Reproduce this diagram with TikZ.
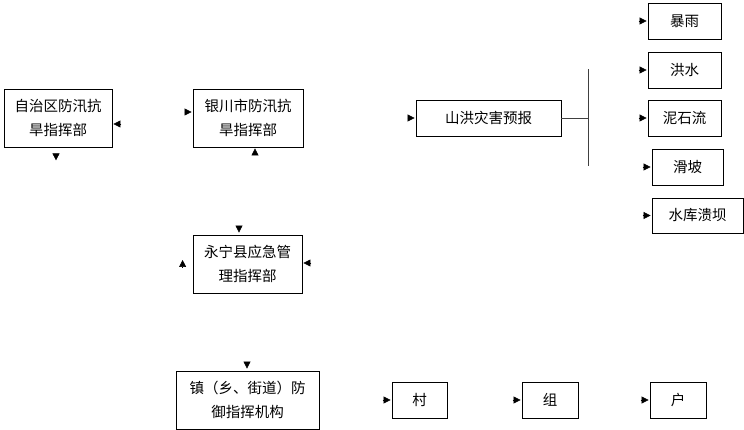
\documentclass[tikz,border=0pt]{standalone}
\usepackage{fontspec}
\setmainfont{Noto Sans CJK SC}
\usetikzlibrary{arrows.meta,calc}

\tikzset{
  box/.style={draw, line width=0.8pt, align=center, inner sep=0pt,
    font=\fontsize{14.5}{24}\selectfont},
  tip/.style={-{Triangle[length=7pt,width=7pt]}, line width=0.6pt},
}

\begin{document}
\begin{tikzpicture}[x=1pt,y=-1pt]
            \useasboundingbox (0,0) rectangle (744,430);
            % command chain
            \node[box, minimum width=108pt, minimum height=58pt] (zzq) at (58,118) {自治区防汛抗\\旱指挥部};
            \node[box, minimum width=110pt, minimum height=58pt] (ycs) at (248,118) {银川市防汛抗\\旱指挥部};
            \node[box, minimum width=109pt, minimum height=58pt] (yn) at (247.5,264) {永宁县应急管\\理指挥部};
            \node[box, minimum width=143pt, minimum height=58pt] (zhen) at (247.5,400) {镇（乡、街道）防\\御指挥机构};
            \node[box, minimum width=55pt, minimum height=36pt] (cun) at (419.5,400) {村};
            \node[box, minimum width=56pt, minimum height=36pt] (zu) at (550,400) {组};
            \node[box, minimum width=56pt, minimum height=36pt] (hu) at (678,400) {户};

            % forecast
            \node[box, minimum width=145pt, minimum height=36pt] (shyb) at (488.5,118) {山洪灾害预报};
            \node[box, minimum width=73pt, minimum height=36pt] (by) at (684.5,21) {暴雨};
            \node[box, minimum width=73pt, minimum height=36pt] (hs) at (684.5,70) {洪水};
            \node[box, minimum width=73pt, minimum height=36pt] (nsl) at (684.5,118) {泥石流};
            \node[box, minimum width=71pt, minimum height=36pt] (hp) at (687.5,167) {滑坡};
            \node[box, minimum width=91pt, minimum height=35pt] (skkb) at (697.5,215.5) {水库溃坝};

            \coordinate (bus) at (588,118);
            \draw[line width=0.8pt, black!75] (shyb.east) -- (bus);
            \draw[line width=0.8pt, black!75] ([yshift=-48pt]bus) -- ([yshift=49pt]bus);

            % arrow heads
            \draw[tip] ([shift={(-8pt,6pt)}]ycs.west) -- ([shift={(-1pt,6pt)}]ycs.west);
            \draw[tip] ([shift={(9pt,-6pt)}]zzq.east) -- ([shift={(1pt,-6pt)}]zzq.east);
            \draw[tip] ([shift={(-2pt,-7pt)}]zzq.south) -- ([shift={(-2pt,-13pt)}]zzq.south);
            \draw[tip] ([shift={(7pt,-7pt)}]ycs.south) -- ([shift={(7pt,-1pt)}]ycs.south);
            \draw[tip] ([shift={(-8.5pt,8pt)}]yn.north) -- ([shift={(-8.5pt,2pt)}]yn.north);
            \draw[tip] ([shift={(-10pt,-3pt)}]yn.west) -- ([shift={(-10pt,4pt)}]yn.west);
            \draw[tip] ([shift={(9pt,1pt)}]yn.east) -- ([shift={(1pt,1pt)}]yn.east);
            \draw[tip] ([shift={(-0.5pt,8pt)}]zhen.north) -- ([shift={(-0.5pt,2pt)}]zhen.north);
            \draw[tip] ([xshift=-8pt]shyb.west) -- ([xshift=-1pt]shyb.west);
            \foreach \n in {by,hs,nsl,hp,skkb,cun,zu,hu}
              \draw[tip] ([xshift=-9pt]\n.west) -- ([xshift=-1pt]\n.west);
        \end{tikzpicture}
\end{document}
